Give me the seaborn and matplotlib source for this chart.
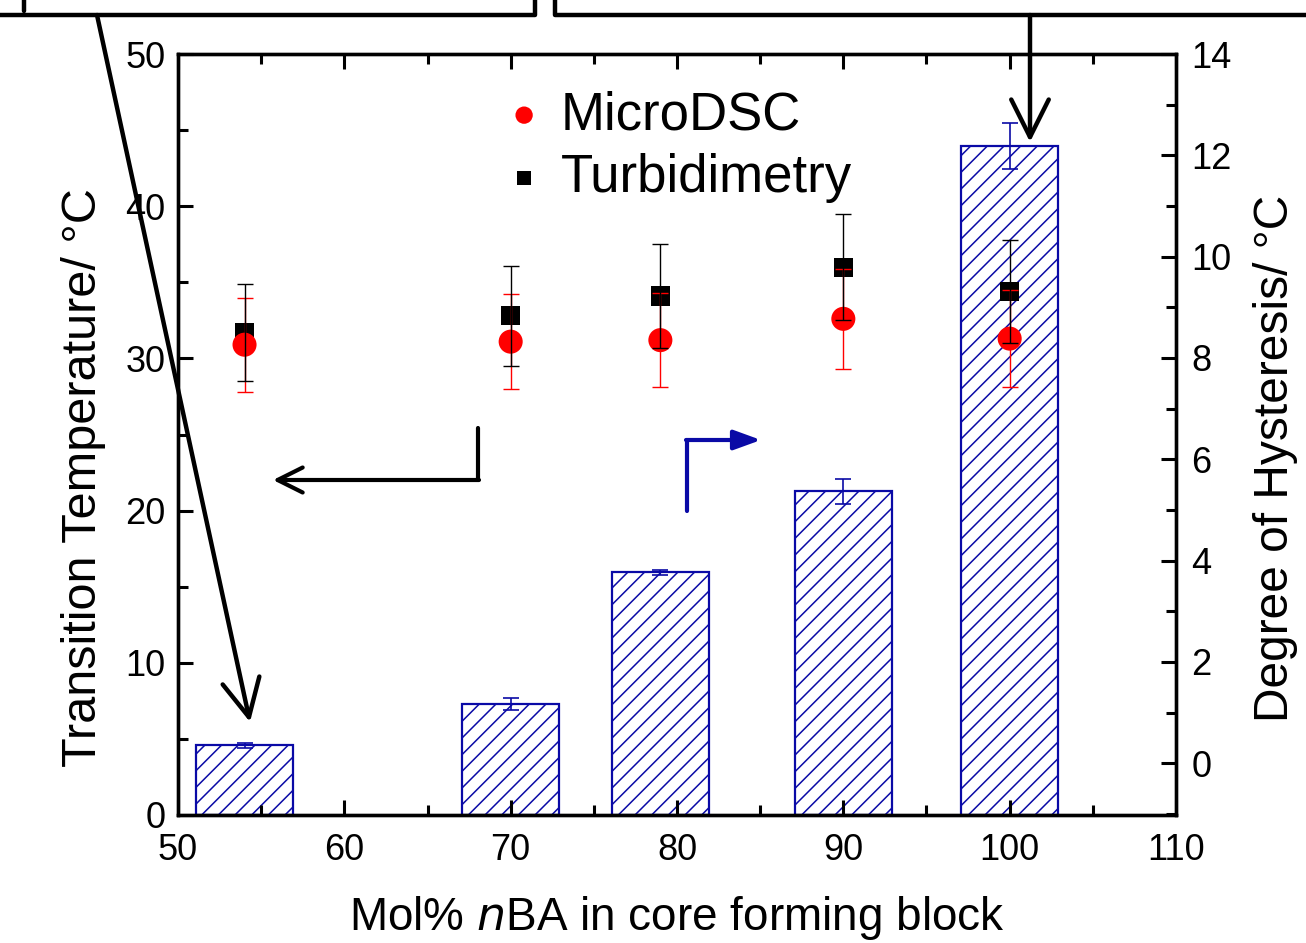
import pandas as pd
import matplotlib.pyplot as plt
import seaborn as sns
from matplotlib.ticker import MultipleLocator
from matplotlib.lines import Line2D
from matplotlib.patches import FancyArrowPatch

# composition of the core forming block (mol% nBA)
mol_nba = [54, 70, 79, 90, 100]

# transition temperatures (left axis)
dsc_temp = [30.9, 31.1, 31.2, 32.6, 31.3]
dsc_err = [3.1, 3.1, 3.1, 3.3, 3.2]
turb_temp = [31.7, 32.8, 34.1, 36.0, 34.4]
turb_err = [3.2, 3.3, 3.4, 3.5, 3.4]

# degree of hysteresis (right axis, bars)
hysteresis = [0.36, 1.17, 3.77, 5.37, 12.18]
hyst_err = [0.05, 0.12, 0.05, 0.25, 0.45]

W, H = 1306, 943
blue = '#0a0aa6'

sns.set_style('ticks')
plt.rcParams['font.family'] = ['Liberation Sans', 'DejaVu Sans']
plt.rcParams['hatch.linewidth'] = 1.1
for k in ['text.color', 'axes.labelcolor', 'xtick.color', 'ytick.color',
          'axes.edgecolor']:
    plt.rcParams[k] = 'black'

fig = plt.figure(figsize=(W / 100, H / 100), dpi=100)
ax = fig.add_axes([178 / W, 1 - 815 / H, (1176 - 178) / W, (815 - 54) / H])
ax2 = ax.twinx()

# bars for hysteresis
df_h = pd.DataFrame({'mol': mol_nba, 'hyst': hysteresis})
sns.barplot(data=df_h, x='mol', y='hyst', native_scale=True, width=5.8 / 9,
            errorbar=None, ax=ax2)
for p in ax2.patches:
    h = p.get_height()
    p.set_y(-1.02)
    p.set_height(h + 1.02)
    p.set_facecolor('white')
    p.set_edgecolor(blue)
    p.set_hatch('//')
    p.set_linewidth(1.6)
ax2.errorbar(mol_nba, hysteresis, yerr=hyst_err, fmt='none', ecolor=blue,
             elinewidth=1.2, capsize=6, capthick=1.2, zorder=5)

# temperature points
df_t = pd.DataFrame({'mol': mol_nba, 'dsc': dsc_temp, 'turb': turb_temp})
sns.scatterplot(data=df_t, x='mol', y='turb', marker='s', s=190, color='black',
                edgecolor='none', ax=ax, zorder=3, label='Turbidimetry')
sns.scatterplot(data=df_t, x='mol', y='dsc', marker='o', s=300, color='red',
                edgecolor='none', ax=ax, zorder=4, label='MicroDSC')
ax.errorbar(mol_nba, dsc_temp, yerr=dsc_err, fmt='none', ecolor='red',
            elinewidth=1.0, capsize=6, capthick=1.0, zorder=5)
ax.errorbar(mol_nba, turb_temp, yerr=turb_err, fmt='none', ecolor='black',
            elinewidth=1.0, capsize=6, capthick=1.0, zorder=6)

ax.set_zorder(ax2.get_zorder() + 1)
ax.patch.set_visible(False)

ax.set_xlim(50, 110)
ax.set_ylim(0, 50)
ax2.set_ylim(-1.02, 14)

ax.xaxis.set_major_locator(MultipleLocator(10))
ax.xaxis.set_minor_locator(MultipleLocator(5))
ax.yaxis.set_major_locator(MultipleLocator(10))
ax.yaxis.set_minor_locator(MultipleLocator(5))
ax2.yaxis.set_major_locator(MultipleLocator(2))
ax2.yaxis.set_minor_locator(MultipleLocator(1))

ax.tick_params(axis='both', which='both', direction='in', width=2.2,
               labelsize=26, top=True, right=False)
ax.tick_params(axis='both', which='major', length=11)
ax.tick_params(axis='both', which='minor', length=7)
ax.tick_params(axis='y', pad=9)
ax.tick_params(axis='x', pad=13)
ax2.tick_params(axis='y', which='both', direction='in', width=2.2,
                labelsize=26, pad=11)
ax2.tick_params(axis='y', which='major', length=11)
ax2.tick_params(axis='y', which='minor', length=7)

for a in (ax, ax2):
    for s in a.spines.values():
        s.set_linewidth(2.4)
        s.set_visible(True)

ax.set_xlabel('Mol% $\\it{n}$BA in core forming block', fontsize=33, labelpad=19)
ax.set_ylabel('Transition Temperature/ °C', fontsize=35)
ax.yaxis.set_label_coords(-0.072, 0.443)
ax2.set_ylabel('Degree of Hysteresis/ °C', fontsize=34.5)
ax2.yaxis.set_label_coords(1.077, 0.469)

# legend
handles, labels = ax.get_legend_handles_labels()
order = [labels.index('MicroDSC'), labels.index('Turbidimetry')]
ax.legend([handles[i] for i in order], [labels[i] for i in order],
          loc='upper left', bbox_to_anchor=(503 / W, 1 - 90 / H),
          bbox_transform=fig.transFigure, frameon=False, fontsize=38,
          markerscale=0.72, handlelength=0.8, handletextpad=0.3,
          labelspacing=0.25, borderpad=0, borderaxespad=0)


def fp(x, y):
    return (x / W, 1 - y / H)


# clipped boxes at the top
for xs, ys in [([0, 535, 535], [15, 15, 0]), ([555, 555, W], [0, 15, 15]),
               ([24, 24], [0, 11])]:
    fig.add_artist(Line2D([x / W for x in xs], [1 - y / H for y in ys],
                          color='black', lw=3.2))

arrow_k = dict(arrowstyle='->,head_length=0.9,head_width=0.45', lw=3.2,
               color='black', mutation_scale=30, shrinkA=0, shrinkB=0)
fig.add_artist(FancyArrowPatch(fp(97, 15), fp(250, 722),
                               transform=fig.transFigure, **arrow_k))
fig.add_artist(FancyArrowPatch(fp(1030, 15), fp(1030, 142),
                               transform=fig.transFigure, **arrow_k))

# elbow arrows pointing to the axes
fig.add_artist(Line2D([478 / W, 478 / W], [1 - 428 / H, 1 - 480 / H],
                      color='black', lw=3))
fig.add_artist(FancyArrowPatch(
    fp(479, 480), fp(273, 480), transform=fig.transFigure,
    arrowstyle='->,head_length=0.6,head_width=0.3', lw=3, color='black',
    mutation_scale=30, shrinkA=0, shrinkB=0))
fig.add_artist(Line2D([687 / W, 687 / W], [1 - 511 / H, 1 - 440 / H],
                      color=blue, lw=3))
fig.add_artist(FancyArrowPatch(
    fp(686, 440), fp(761, 440), transform=fig.transFigure,
    arrowstyle='-|>,head_length=0.55,head_width=0.2', lw=3, color=blue,
    mutation_scale=30, shrinkA=0, shrinkB=0))

fig.savefig('out.png', dpi=100)
